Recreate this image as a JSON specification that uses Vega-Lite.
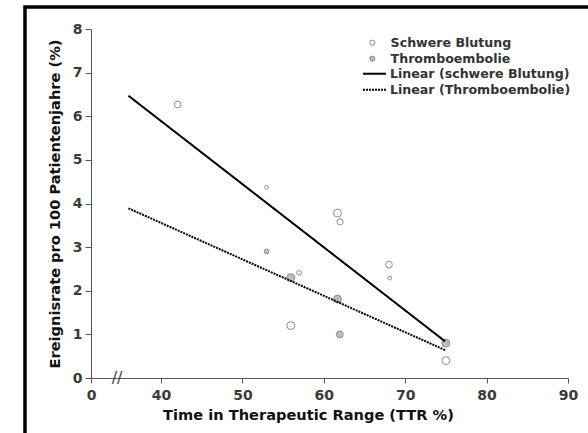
{
  "$schema": "https://vega.github.io/schema/vega-lite/v6.json",
  "autosize": "none",
  "width": 477,
  "height": 349,
  "padding": {"left": 91, "top": 29, "right": 20, "bottom": 55},
  "background": "white",
  "config": {
    "view": {"stroke": null},
    "font": "DejaVu Sans",
    "axis": {
      "grid": false,
      "domainColor": "#555555",
      "tickColor": "#555555",
      "labelColor": "#3a3a3a",
      "labelFont": "DejaVu Sans",
      "labelFontWeight": "bold",
      "labelFontSize": 14,
      "titleFont": "DejaVu Sans",
      "titleFontWeight": "bold",
      "titleFontSize": 14.6,
      "titleColor": "#111111"
    },
    "legend": {
      "padding": 0,
      "rowPadding": 0,
      "labelFont": "DejaVu Sans",
      "labelFontWeight": "bold",
      "labelFontSize": 12.6,
      "labelColor": "#333333",
      "labelLimit": 400
    }
  },
  "datasets": {
    "points": [
      {"series": "Schwere Blutung", "ttr": 42.05, "rate": 6.27, "weight": 3},
      {"series": "Schwere Blutung", "ttr": 52.97, "rate": 4.37, "weight": 1},
      {"series": "Schwere Blutung", "ttr": 55.95, "rate": 1.2, "weight": 4},
      {"series": "Schwere Blutung", "ttr": 56.97, "rate": 2.41, "weight": 1.5},
      {"series": "Schwere Blutung", "ttr": 61.68, "rate": 3.78, "weight": 4},
      {"series": "Schwere Blutung", "ttr": 62.0, "rate": 3.58, "weight": 2.5},
      {"series": "Schwere Blutung", "ttr": 68.0, "rate": 2.6, "weight": 3},
      {"series": "Schwere Blutung", "ttr": 68.1, "rate": 2.29, "weight": 1},
      {"series": "Schwere Blutung", "ttr": 75.0, "rate": 0.4, "weight": 4},
      {"series": "Thromboembolie", "ttr": 52.97, "rate": 2.9, "weight": 1.5},
      {"series": "Thromboembolie", "ttr": 55.95, "rate": 2.3, "weight": 4},
      {"series": "Thromboembolie", "ttr": 61.68, "rate": 1.81, "weight": 4},
      {"series": "Thromboembolie", "ttr": 61.96, "rate": 1.0, "weight": 3},
      {"series": "Thromboembolie", "ttr": 75.0, "rate": 0.8, "weight": 4}
    ],
    "trends": [
      {"series": "Linear (schwere Blutung)", "ttr": 36.0, "rate": 6.47},
      {"series": "Linear (schwere Blutung)", "ttr": 74.9, "rate": 0.84},
      {"series": "Linear (Thromboembolie)", "ttr": 36.0, "rate": 3.89},
      {"series": "Linear (Thromboembolie)", "ttr": 74.9, "rate": 0.64}
    ],
    "one": [{"k": 1}]
  },
  "layer": [
    {
      "data": {"name": "points"},
      "mark": {"type": "circle", "stroke": "#8c8c8c", "strokeWidth": 1, "opacity": 1},
      "encoding": {
        "x": {
          "field": "ttr", "type": "quantitative",
          "scale": {"domain": [31.4, 90], "nice": false, "zero": false},
          "axis": {
            "title": "Time in Therapeutic Range (TTR %)",
            "values": [31.4, 40, 50, 60, 70, 80, 90],
            "labelExpr": "datum.value < 35 ? '0' : datum.label",
            "labelFlush": false,
            "labelOverlap": false,
            "tickSize": 5,
            "labelPadding": 5,
            "titlePadding": 5,
            "titleX": 217
          }
        },
        "y": {
          "field": "rate", "type": "quantitative",
          "scale": {"domain": [0, 8], "nice": false},
          "axis": {
            "title": "Ereignisrate pro 100 Patientenjahre (%)",
            "values": [0, 1, 2, 3, 4, 5, 6, 7, 8],
            "tickSize": 6,
            "labelPadding": 3,
            "titlePadding": 10
          }
        },
        "color": {
          "field": "series", "type": "nominal",
          "scale": {
            "domain": ["Schwere Blutung", "Thromboembolie"],
            "range": ["#ffffff", "#bdbdbd"]
          },
          "legend": {
            "title": null,
            "orient": "none",
            "legendX": 275,
            "legendY": 6,
            "clipHeight": 15.3,
            "symbolType": "circle",
            "symbolSize": 26,
            "symbolStrokeColor": "#8c8c8c",
            "symbolStrokeWidth": 1,
            "symbolOpacity": 1,
            "labelOffset": 12
          }
        },
        "size": {
          "field": "weight", "type": "quantitative",
          "scale": {"domain": [1, 4], "range": [14, 62]},
          "legend": null
        }
      }
    },
    {
      "data": {"name": "trends"},
      "mark": {"type": "line", "strokeWidth": 2, "color": "#000000"},
      "encoding": {
        "x": {"field": "ttr", "type": "quantitative"},
        "y": {"field": "rate", "type": "quantitative"},
        "strokeDash": {
          "field": "series", "type": "nominal",
          "scale": {"domain": ["Linear (schwere Blutung)", "Linear (Thromboembolie)"], "range": [[1, 0], [2, 1]]},
          "legend": {
            "title": null,
            "orient": "none",
            "legendX": 271,
            "legendY": 37,
            "clipHeight": 15.3,
            "symbolType": "stroke",
            "symbolSize": 529,
            "symbolStrokeColor": "#000000",
            "symbolStrokeWidth": 2,
            "labelOffset": 3
          }
        }
      }
    },
    {
      "data": {"name": "one"},
      "mark": {"type": "text", "text": "//", "fontSize": 16, "font": "DejaVu Sans", "color": "#444444", "baseline": "middle", "align": "center"},
      "encoding": {"x": {"datum": 34.6}, "y": {"datum": 0}}
    },
    {
      "data": {"name": "one"},
      "mark": {"type": "rect", "fill": null, "fillOpacity": 0, "stroke": "#000000", "strokeWidth": 3.5},
      "encoding": {"x": {"datum": 23.29}, "x2": {"datum": 130}, "y": {"datum": 8.504}, "y2": {"datum": -5}}
    }
  ]
}
